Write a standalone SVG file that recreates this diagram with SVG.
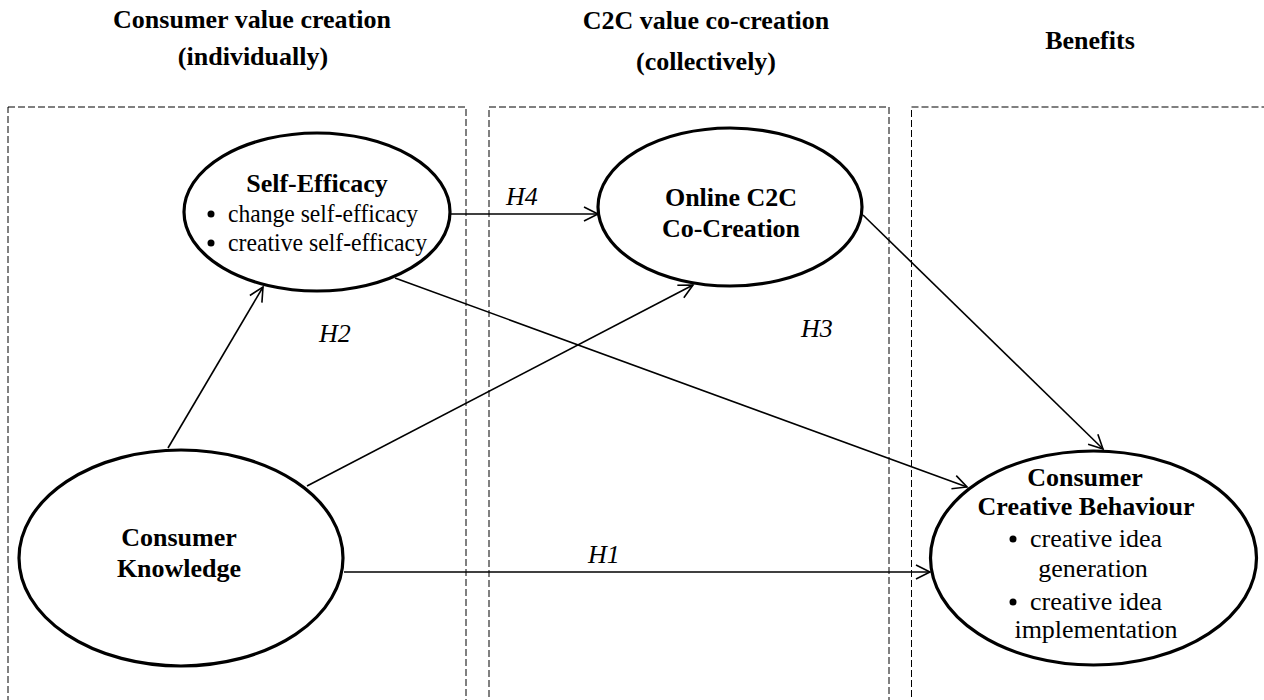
<svg xmlns="http://www.w3.org/2000/svg" width="1264" height="700" viewBox="0 0 1264 700">
  <style>
    .hdr { font-family: "Liberation Serif", "Times New Roman", serif; font-size: 26px; font-weight: bold; fill: #000; text-anchor: middle; }
    .title { font-family: "Liberation Serif", "Times New Roman", serif; font-size: 26px; font-weight: bold; fill: #000; text-anchor: middle; }
    .item { font-family: "Liberation Serif", "Times New Roman", serif; font-size: 26px; fill: #000; }
    .hyp { font-family: "Liberation Serif", "Times New Roman", serif; font-size: 26px; font-style: italic; fill: #000; }
    .zone { fill: none; stroke: #000; stroke-width: 1; stroke-dasharray: 7 3; }
    .node { fill: #fff; stroke: #000; stroke-width: 3.2; }
    .link { fill: none; stroke: #000; stroke-width: 1.6; marker-end: url(#open); }
  </style>
  <defs>
    <marker id="open" markerUnits="userSpaceOnUse" markerWidth="20" markerHeight="20" viewBox="0 0 20 20" refX="16" refY="10" orient="auto">
      <path d="M2,3 L16,10 L2,17" fill="none" stroke="#000" stroke-width="1.6"/>
    </marker>
  </defs>

  <rect width="1264" height="700" fill="#fff"/>

  <!-- column headings -->
  <g id="headings">
    <text class="hdr" x="252" y="28">Consumer value creation</text>
    <text class="hdr" x="253" y="65">(individually)</text>
    <text class="hdr" x="706" y="29">C2C value co-creation</text>
    <text class="hdr" x="706" y="70">(collectively)</text>
    <text class="hdr" x="1090" y="49">Benefits</text>
  </g>

  <!-- dashed zones -->
  <g id="zones">
    <rect class="zone" x="8" y="107" width="458" height="620"/>
    <rect class="zone" x="489" y="107" width="400" height="620"/>
    <rect class="zone" x="911.5" y="107" width="400" height="620"/>
  </g>

  <!-- connectors -->
  <g id="connectors">
    <line class="link" x1="168" y1="448" x2="263" y2="287"/>
    <line class="link" x1="307" y1="486" x2="693" y2="285"/>
    <line class="link" x1="450" y1="214" x2="598" y2="214"/>
    <line class="link" x1="395" y1="278" x2="967" y2="487"/>
    <line class="link" x1="863" y1="215" x2="1103" y2="449"/>
    <line class="link" x1="344" y1="572" x2="930" y2="572"/>
  </g>

  <!-- hypothesis labels -->
  <g id="labels">
    <text class="hyp" x="506" y="205">H4</text>
    <text class="hyp" x="319" y="342">H2</text>
    <text class="hyp" x="801" y="337">H3</text>
    <text class="hyp" x="588" y="563">H1</text>
  </g>

  <g id="self-efficacy">
    <ellipse class="node" cx="317" cy="212" rx="133" ry="79"/>
    <text class="title" x="317" y="192">Self-Efficacy</text>
    <circle cx="211" cy="214" r="3.5"/>
    <text class="item" x="228" y="222" font-size="24" textLength="190" lengthAdjust="spacingAndGlyphs">change self-efficacy</text>
    <circle cx="211" cy="243" r="3.5"/>
    <text class="item" x="228" y="251" font-size="24" textLength="199" lengthAdjust="spacingAndGlyphs">creative self-efficacy</text>
  </g>

  <g id="online-c2c">
    <ellipse class="node" cx="730" cy="207" rx="132" ry="79"/>
    <text class="title" x="731" y="206">Online C2C</text>
    <text class="title" x="731" y="237">Co-Creation</text>
  </g>

  <g id="consumer-knowledge">
    <ellipse class="node" cx="181" cy="558" rx="162" ry="108"/>
    <text class="title" x="179" y="546">Consumer</text>
    <text class="title" x="179" y="577">Knowledge</text>
  </g>

  <g id="creative-behaviour">
    <ellipse class="node" cx="1093.5" cy="558" rx="163" ry="107"/>
    <text class="title" x="1085" y="486">Consumer</text>
    <text class="title" x="1086" y="515">Creative Behaviour</text>
    <circle cx="1013" cy="539" r="3.5"/>
    <text class="item" x="1030" y="547">creative idea</text>
    <text class="item" x="1093" y="577" text-anchor="middle">generation</text>
    <circle cx="1013" cy="602" r="3.5"/>
    <text class="item" x="1030" y="610">creative idea</text>
    <text class="item" x="1096" y="638" text-anchor="middle">implementation</text>
  </g>
</svg>
